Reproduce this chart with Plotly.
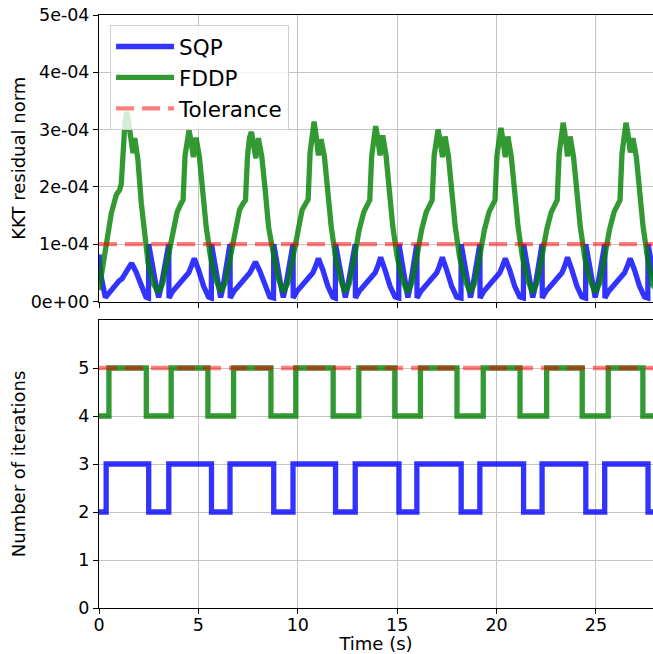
import plotly.graph_objects as go

# ---------------- data ----------------
RES_UNIT = 1e-4  # residual values below are expressed in units of 1e-4

# SQP KKT residual norm
sqp_res_t = [
    0.00, 0.10, 0.32,
    0.56, 0.81, 1.01, 1.16, 1.36, 1.48, 1.64, 1.86, 2.11, 2.36, 2.49,
    2.50, 2.90, 3.00, 3.10, 3.51,
    3.52, 3.71, 3.96, 4.16, 4.31, 4.51, 4.63, 4.79, 5.01, 5.26, 5.51, 5.65,
    5.66, 6.03, 6.12, 6.22, 6.59,
    6.60, 6.79, 7.04, 7.24, 7.39, 7.59, 7.71, 7.87, 8.09, 8.34, 8.59, 8.78,
    8.79, 9.18, 9.27, 9.37, 9.76,
    9.77, 9.96, 10.21, 10.41, 10.56, 10.76, 10.88, 11.04, 11.26, 11.51, 11.76, 11.89,
    11.90, 12.30, 12.39, 12.49, 12.89,
    12.90, 13.09, 13.34, 13.54, 13.69, 13.89, 14.01, 14.17, 14.39, 14.64, 14.89, 15.08,
    15.09, 15.45, 15.54, 15.63, 15.99,
    16.00, 16.19, 16.44, 16.64, 16.79, 16.99, 17.11, 17.27, 17.49, 17.74, 17.99, 18.21,
    18.22, 18.60, 18.69, 18.78, 19.16,
    19.17, 19.36, 19.61, 19.81, 19.96, 20.16, 20.28, 20.44, 20.66, 20.91, 21.16, 21.35,
    21.36, 21.73, 21.82, 21.92, 22.29,
    22.30, 22.49, 22.74, 22.94, 23.09, 23.29, 23.41, 23.57, 23.79, 24.04, 24.29, 24.48,
    24.49, 24.87, 24.96, 25.06, 25.44,
    25.45, 25.64, 25.89, 26.09, 26.24, 26.44, 26.56, 26.72, 26.94, 27.19, 27.44, 27.61,
    27.62, 28.10,
]
sqp_res = [
    0.82, 0.45, 0.07,
    0.18, 0.28, 0.36, 0.40, 0.50, 0.58, 0.67, 0.52, 0.27, 0.08, 0.06,
    1.00, 0.22, 0.07, 0.22, 1.00,
    0.06, 0.18, 0.28, 0.36, 0.40, 0.50, 0.60, 0.75, 0.55, 0.27, 0.08, 0.06,
    1.00, 0.22, 0.07, 0.22, 1.00,
    0.06, 0.18, 0.28, 0.36, 0.40, 0.50, 0.58, 0.69, 0.53, 0.27, 0.08, 0.06,
    1.00, 0.22, 0.07, 0.22, 1.00,
    0.06, 0.18, 0.28, 0.36, 0.40, 0.50, 0.60, 0.75, 0.55, 0.27, 0.08, 0.06,
    1.00, 0.22, 0.07, 0.22, 1.00,
    0.06, 0.18, 0.28, 0.36, 0.40, 0.50, 0.60, 0.77, 0.55, 0.27, 0.08, 0.06,
    1.00, 0.22, 0.07, 0.22, 1.00,
    0.06, 0.18, 0.28, 0.36, 0.40, 0.50, 0.60, 0.77, 0.55, 0.27, 0.08, 0.06,
    1.00, 0.22, 0.07, 0.22, 1.00,
    0.06, 0.18, 0.28, 0.36, 0.40, 0.50, 0.60, 0.75, 0.55, 0.27, 0.08, 0.06,
    1.00, 0.22, 0.07, 0.22, 1.00,
    0.06, 0.18, 0.28, 0.36, 0.40, 0.50, 0.60, 0.77, 0.55, 0.27, 0.08, 0.06,
    1.00, 0.22, 0.07, 0.22, 1.00,
    0.06, 0.18, 0.28, 0.36, 0.40, 0.50, 0.60, 0.75, 0.55, 0.27, 0.08, 0.06,
    1.00, 0.10,
]

# FDDP KKT residual norm
fddp_res_t = [
    0.00, 0.15, 0.42, 0.62, 0.87, 1.04, 1.12, 1.21, 1.31, 1.41, 1.49, 1.63, 1.71, 1.80, 1.96, 2.13, 2.30, 2.47, 2.72,
    2.98, 3.21, 3.47, 3.70, 3.93, 4.11, 4.23, 4.33, 4.43, 4.53, 4.61, 4.75, 4.88, 5.05, 5.22, 5.39, 5.60, 5.85,
    6.12, 6.35, 6.61, 6.84, 7.07, 7.25, 7.37, 7.47, 7.57, 7.67, 7.75, 7.89, 8.02, 8.19, 8.36, 8.53, 8.74, 8.99,
    9.27, 9.50, 9.76, 9.99, 10.22, 10.40, 10.52, 10.62, 10.72, 10.82, 10.90, 11.04, 11.17, 11.34, 11.51, 11.68, 11.89, 12.14,
    12.37, 12.60, 12.86, 13.09, 13.32, 13.50, 13.62, 13.72, 13.82, 13.92, 14.00, 14.14, 14.27, 14.44, 14.61, 14.78, 14.99, 15.24,
    15.51, 15.74, 16.00, 16.23, 16.46, 16.64, 16.76, 16.86, 16.96, 17.06, 17.14, 17.28, 17.41, 17.58, 17.75, 17.92, 18.13, 18.38,
    18.67, 18.90, 19.16, 19.39, 19.62, 19.80, 19.92, 20.02, 20.12, 20.22, 20.30, 20.44, 20.57, 20.74, 20.91, 21.08, 21.29, 21.54,
    21.80, 22.03, 22.29, 22.52, 22.75, 22.93, 23.05, 23.15, 23.25, 23.35, 23.43, 23.57, 23.70, 23.87, 24.04, 24.21, 24.42, 24.67,
    24.96, 25.19, 25.45, 25.68, 25.91, 26.09, 26.21, 26.31, 26.41, 26.51, 26.59, 26.73, 26.86, 27.03, 27.20, 27.37, 27.58, 27.83, 28.10,
]
fddp_res = [
    0.20, 0.52, 1.16, 1.54, 1.86, 1.95, 2.05, 2.70, 3.15, 3.31, 3.15, 2.82, 2.59, 2.85, 2.47, 1.71, 1.13, 0.67, 0.32,
    0.16, 0.32, 0.80, 1.25, 1.56, 1.70, 1.77, 2.55, 2.88, 2.99, 2.84, 2.52, 2.86, 2.53, 1.92, 1.31, 0.80, 0.40,
    0.17, 0.32, 0.78, 1.19, 1.60, 1.71, 1.77, 2.53, 2.86, 2.96, 2.82, 2.50, 2.85, 2.53, 1.95, 1.30, 0.90, 0.43,
    0.17, 0.32, 0.78, 1.19, 1.60, 1.71, 1.78, 2.60, 3.00, 3.14, 2.95, 2.55, 2.83, 2.53, 1.92, 1.31, 0.80, 0.40,
    0.16, 0.32, 0.80, 1.25, 1.56, 1.70, 1.77, 2.55, 2.93, 3.06, 2.90, 2.55, 2.90, 2.55, 1.92, 1.31, 0.80, 0.40,
    0.16, 0.32, 0.80, 1.25, 1.56, 1.70, 1.77, 2.55, 2.88, 3.00, 2.85, 2.52, 2.88, 2.53, 1.92, 1.31, 0.80, 0.40,
    0.16, 0.32, 0.80, 1.25, 1.56, 1.70, 1.77, 2.55, 2.90, 3.03, 2.87, 2.52, 2.88, 2.53, 1.92, 1.31, 0.80, 0.40,
    0.16, 0.32, 0.80, 1.25, 1.56, 1.70, 1.77, 2.58, 2.97, 3.12, 2.95, 2.53, 2.88, 2.53, 1.92, 1.31, 0.80, 0.40,
    0.16, 0.32, 0.80, 1.25, 1.56, 1.70, 1.77, 2.58, 2.97, 3.12, 2.97, 2.60, 2.85, 2.53, 1.92, 1.31, 0.80, 0.30, 0.18,
]

# Number of iterations (step signals: value holds until the next change time)
sqp_iter_t = [0.00, 0.36, 2.50, 3.51, 5.66, 6.59, 8.79, 9.76, 11.90, 12.89,
              15.09, 15.99, 18.22, 19.16, 21.36, 22.29, 24.49, 25.44, 27.62, 27.87]
sqp_iter = [2, 3, 2, 3, 2, 3, 2, 3, 2, 3, 2, 3, 2, 3, 2, 3, 2, 3, 2, 2]

fddp_iter_t = [0.00, 0.50, 2.38, 3.63, 5.48, 6.77, 8.65, 9.90, 11.78, 13.07,
               14.88, 16.17, 18.01, 19.33, 21.18, 22.52, 24.31, 25.62, 27.36, 27.87]
fddp_iter = [4, 5, 4, 5, 4, 5, 4, 5, 4, 5, 4, 5, 4, 5, 4, 5, 4, 5, 4, 4]

tolerance = 1e-4
max_iter = 5
t_end = 27.87

res_ticks = [0, 1e-4, 2e-4, 3e-4, 4e-4, 5e-4]
res_ticklabels = ["0e+00", "1e-04", "2e-04", "3e-04", "4e-04", "5e-04"]
iter_ticks = [0, 1, 2, 3, 4, 5]
time_ticks = [0, 5, 10, 15, 20, 25]

# ---------------- styling ----------------
FONT = "DejaVu Sans"
BLUE = "rgba(0,0,255,0.8)"
GREEN = "rgba(0,128,0,0.8)"
RED = "rgba(255,0,0,0.5)"
GRID = "#c4c4c4"
LW = 5.3

fig = go.Figure()

# top panel
fig.add_trace(go.Scatter(x=sqp_res_t, y=[v * RES_UNIT for v in sqp_res], mode="lines",
                         name="SQP", line=dict(color=BLUE, width=LW), xaxis="x", yaxis="y"))
fig.add_trace(go.Scatter(x=fddp_res_t, y=[v * RES_UNIT for v in fddp_res], mode="lines",
                         name="FDDP", line=dict(color=GREEN, width=LW), xaxis="x", yaxis="y"))
fig.add_trace(go.Scatter(x=[0, t_end], y=[tolerance, tolerance], mode="lines",
                         name="Tolerance", line=dict(color=RED, width=4.3, dash="18px,8px"),
                         xaxis="x", yaxis="y"))

# bottom panel
fig.add_trace(go.Scatter(x=sqp_iter_t, y=sqp_iter, mode="lines", line_shape="hv",
                         name="SQP", showlegend=False, line=dict(color=BLUE, width=LW),
                         xaxis="x2", yaxis="y2"))
fig.add_trace(go.Scatter(x=fddp_iter_t, y=fddp_iter, mode="lines", line_shape="hv",
                         name="FDDP", showlegend=False, line=dict(color=GREEN, width=LW),
                         xaxis="x2", yaxis="y2"))
fig.add_trace(go.Scatter(x=[0, t_end], y=[max_iter, max_iter], mode="lines",
                         name="Tolerance", showlegend=False,
                         line=dict(color=RED, width=4.3, dash="18px,8px"),
                         xaxis="x2", yaxis="y2"))

axis_common = dict(showline=True, linecolor="black", linewidth=1, mirror=False,
                   ticks="outside", ticklen=5, tickwidth=1, tickcolor="black",
                   showgrid=True, gridcolor=GRID, gridwidth=1, zeroline=False,
                   tickfont=dict(family=FONT, size=17.5, color="black"),
                   automargin=False)

H = 654 - 15 - 46
fig.update_layout(
    width=653, height=654,
    margin=dict(l=99, r=0, t=15, b=46),
    paper_bgcolor="white", plot_bgcolor="white",
    font=dict(family=FONT, color="black"),
    showlegend=True,
    legend=dict(x=0.02, y=(608 - 25) / H, xanchor="left", yanchor="top",
                bgcolor="rgba(255,255,255,0.8)", bordercolor="#d0d0d0", borderwidth=1,
                font=dict(family=FONT, size=21.5, color="black"), itemwidth=58,
                tracegroupgap=0),
    xaxis=dict(axis_common, domain=[0, 1], range=[0, t_end], anchor="y",
               tickvals=time_ticks, showticklabels=False, mirror=True, matches="x2"),
    yaxis=dict(axis_common, domain=[(608 - 301.5) / H, 1.0], range=[0, 5e-4], anchor="x",
               tickvals=res_ticks, ticktext=res_ticklabels,
               title=dict(text="KKT residual norm", font=dict(family=FONT, size=18), standoff=0)),
    xaxis2=dict(axis_common, domain=[0, 1], range=[0, t_end], anchor="y2",
                tickvals=time_ticks, mirror=True, ticklabelstandoff=-4,
                title=dict(text="Time (s)", font=dict(family=FONT, size=18), standoff=1)),
    yaxis2=dict(axis_common, domain=[0, (608 - 320) / H], range=[0, 6], anchor="x2",
                tickvals=iter_ticks,
                title=dict(text="Number of iterations", font=dict(family=FONT, size=18), standoff=48)),
)

fig.write_html("out.html", config={"displayModeBar": False},
               post_script="document.body.style.margin='0';")
